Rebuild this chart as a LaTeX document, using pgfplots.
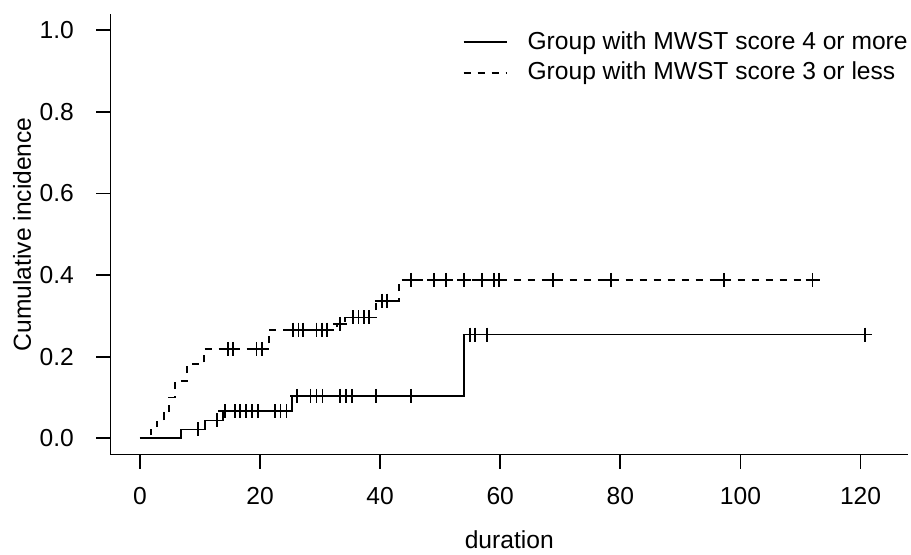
\documentclass[border=0pt]{standalone}
\usepackage{fontspec}
\setmainfont{Liberation Sans}
\usepackage{pgfplots}
\pgfplotsset{compat=1.18}
\begin{document}
\fontsize{12.3pt}{14.8pt}\selectfont
\begin{tikzpicture}
\begin{axis}[
 at={(55.25pt,49.75pt)}, anchor=south west,
 scale only axis, width=398.75pt, height=220.25pt,
 xmin=-4.9, xmax=127.9, ymin=-0.04, ymax=1.04,
 axis x line*=bottom, axis y line*=left,
 axis line style={line width=0.9pt,-},
 xtick={0,20,40,60,80,100,120},
 ytick={0,0.2,0.4,0.6,0.8,1},
 tick align=outside, major tick length=7pt,
 tick style={line width=0.9pt,black},
 /pgf/number format/assume math mode=true,
 yticklabel style={xshift=-7pt,/pgf/number format/.cd,fixed,fixed zerofill,precision=1},
 xticklabel style={yshift=-5pt},
 xlabel={duration}, ylabel={Cumulative incidence},
 every axis x label/.style={at={(axis description cs:0.5,0)},anchor=center,yshift=-42.75pt},
 every axis y label/.style={at={(axis description cs:-0.111,0.5)},anchor=center,rotate=90},
 legend style={draw=none,fill=none,at={(axis description cs:1,1)},anchor=north east,
   yshift=-8.5pt,inner sep=0pt,row sep=4.5pt,nodes={inner sep=0pt}},
 legend cell align={left},
 legend image code/.code={\draw[#1] (0pt,0pt) -- (21.7pt,0pt); \path (31.5pt,0pt);},
]
% group with MWST score 4 or more
\addplot[const plot,line width=0.9pt,black] coordinates {
 (0,0) (6.8,0.0214) (10.8,0.0435) (13.9,0.066) (25.3,0.104) (53.9,0.254) (120.8,0.254)};
\addlegendentry{Group with MWST score 4 or more}
% group with MWST score 3 or less
\addplot[const plot,line width=0.9pt,black,dash pattern=on 3.5pt off 3.5pt] coordinates {
 (0,0) (1.8,0.021) (2.8,0.041) (4.0,0.061) (4.9,0.100) (5.8,0.14) (7.8,0.181)
 (10.7,0.219) (21.5,0.266) (32.8,0.28) (34.2,0.296) (39.3,0.337) (43.1,0.388) (112,0.388)};
\addlegendentry{Group with MWST score 3 or less}
% censoring marks
\addplot[only marks,mark=+,mark size=3.5pt,line width=0.9pt,black,forget plot] coordinates {
 (9.7,0.0214) (12.8,0.0435) (14.2,0.066) (15.8,0.066) (16.7,0.066) (17.7,0.066)
 (18.6,0.066) (19.6,0.066) (22.5,0.066) (23.4,0.066) (24.4,0.066)
 (26.2,0.104) (28.4,0.104) (29.4,0.104) (30.4,0.104) (33.3,0.104) (34.3,0.104)
 (35.3,0.104) (39.3,0.104) (45.1,0.104)
 (54.9,0.254) (55.8,0.254) (57.8,0.254) (120.8,0.254)};
\addplot[only marks,mark=+,mark size=3.5pt,line width=0.9pt,black,forget plot] coordinates {
 (14.7,0.219) (15.5,0.219) (19.4,0.219) (20.3,0.219)
 (25.5,0.266) (26.4,0.266) (27.2,0.266) (29.4,0.266) (30.3,0.266) (31.2,0.266)
 (33.3,0.28) (35.5,0.296) (36.4,0.296) (37.3,0.296) (38.2,0.296)
 (40.3,0.337) (41.1,0.337)
 (45.1,0.388) (49.0,0.388) (51.0,0.388) (54.0,0.388) (56.9,0.388) (58.9,0.388)
 (59.8,0.388) (68.8,0.388) (78.5,0.388) (97.2,0.388) (112,0.388)};
\end{axis}
\pgfresetboundingbox
\useasboundingbox (0,0) rectangle (455.5pt,277pt);
\end{tikzpicture}
\end{document}
